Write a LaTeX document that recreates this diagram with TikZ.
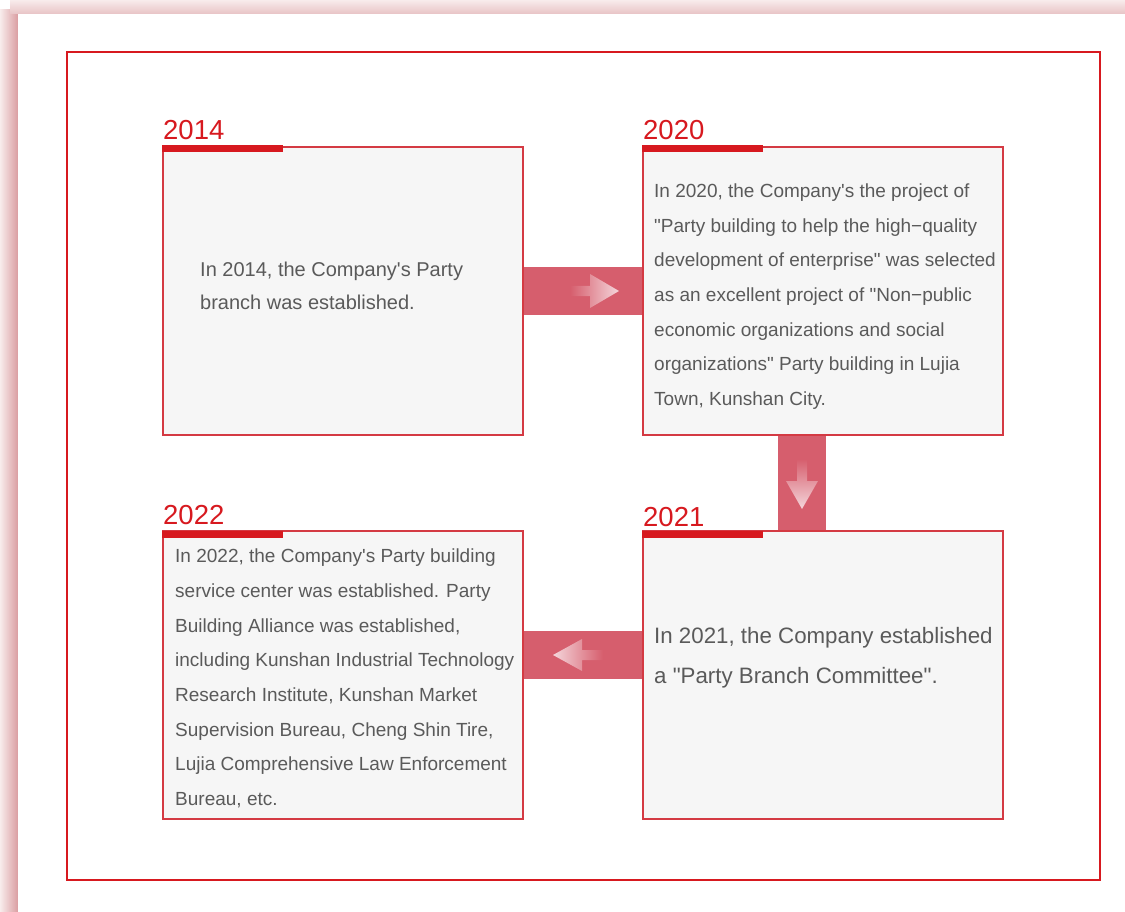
\documentclass[tikz,border=0pt]{standalone}
\usepackage{fontspec}
\newfontfamily\cardfont{Liberation Sans}
\usetikzlibrary{positioning,calc,backgrounds}
\definecolor{framered}{HTML}{D7191F}
\definecolor{boxline}{HTML}{D43A43}
\definecolor{boxfill}{HTML}{F6F6F6}
\definecolor{bandred}{HTML}{D65E6D}
\definecolor{arrowlight}{HTML}{F4D6DB}
\definecolor{textgray}{HTML}{5A5A5A}
\definecolor{shadowdark}{HTML}{DA9DA1}
\definecolor{shadowlight}{HTML}{F8ECEC}
\definecolor{shadowtop}{HTML}{E8C3C5}
\tikzset{yearbox/.style={draw=boxline, line width=1.1pt, fill=boxfill,
  minimum width=360pt, minimum height=288pt, inner sep=0pt, outer sep=0pt},
yeartag/.style={text=framered, font=\cardfont\fontsize{27.5}{27.5}\selectfont,
  inner sep=0pt, anchor=base west},
yearbar/.style={framered, line width=7pt},
boxtext/.style={text=textgray, font=\cardfont\fontsize{19}{34.7}\selectfont,
  align=left, inner sep=0pt},
band/.style={bandred, line width=48pt}}

\begin{document}
\begin{tikzpicture}[x=1pt,y=-1pt]
        \useasboundingbox (0,0) rectangle (1125,912);
        \begin{pgfonlayer}{background}
        \shade[left color=shadowlight, right color=shadowdark] (0,10) rectangle (18,912);
        \shade[top color=shadowlight, bottom color=shadowtop] (10,0) rectangle (1125,14);
        \fill[white] (18,14) rectangle (1125,912);
        \end{pgfonlayer}
        \draw[framered, line width=2.4pt] (67,52) rectangle (1100,880);

        \node[yearbox] (b2014) at (343,291) {};
        \node[yearbox] (b2020) at (823,291) {};
        \node[yearbox] (b2021) at (823,675) {};
        \node[yearbox] (b2022) at (343,675) {};

        \begin{pgfonlayer}{background}
        \draw[band] (b2014.east) -- (b2020.west);
        \draw[band] ([xshift=-21pt]b2020.south) -- ([xshift=-21pt]b2021.north);
        \draw[band] ([yshift=20pt]b2021.west) -- ([yshift=20pt]b2022.east);
        \end{pgfonlayer}

        % arrow marks on the bands
        \coordinate (m1) at ($(b2014.east)!.5!(b2020.west)$);
        \coordinate (m2) at ($([xshift=-21pt]b2020.south)!.5!([xshift=-21pt]b2021.north)$);
        \coordinate (m3) at ($([yshift=20pt]b2021.west)!.5!([yshift=20pt]b2022.east)$);
        \shade[left color=bandred, middle color=arrowlight!70!bandred, right color=arrowlight]
              ($(m1)+(-13,-5)$) -- ++(20,0) -- ++(0,-12) -- ++(29,17) -- ++(-29,17) -- ++(0,-12) -- ++(-20,0) -- cycle;
        \shade[top color=bandred, middle color=arrowlight!70!bandred, bottom color=arrowlight]
              ($(m2)+(-5,-24)$) -- ++(10,0) -- ++(0,22) -- ++(11,0) -- ++(-16,28) -- ++(-16,-28) -- ++(11,0) -- cycle;
        \shade[left color=arrowlight, middle color=arrowlight!70!bandred, right color=bandred]
              ($(m3)+(20,-5)$) -- ++(-21,0) -- ++(0,-11) -- ++(-29,16) -- ++(29,16) -- ++(0,-11) -- ++(21,0) -- cycle;

        \node[yeartag] (y2014) at ([yshift=7pt]b2014.north west) {2014};
        \node[yeartag] (y2020) at ([yshift=7pt]b2020.north west) {2020};
        \node[yeartag] (y2021) at ([yshift=5pt]b2021.north west) {2021};
        \node[yeartag] (y2022) at ([yshift=7pt]b2022.north west) {2022};
        \draw[yearbar] ([xshift=-1pt,yshift=-2pt]b2014.north west) -- ++(121,0);
        \draw[yearbar] ([xshift=-1pt,yshift=-2pt]b2020.north west) -- ++(121,0);
        \draw[yearbar] ([xshift=-1pt,yshift=-3.5pt]b2021.north west) -- ++(121,0);
        \draw[yearbar] ([xshift=-1pt,yshift=-3.5pt]b2022.north west) -- ++(121,0);

        \node[boxtext, font=\cardfont\fontsize{20}{33}\selectfont, right=37pt of b2014.west, yshift=5.5pt] (t2014)
              {In 2014, the Company's Party\\branch was established.};
        \node[boxtext, right=11pt of b2020.west, yshift=-5.5pt] (t2020)
              {In 2020, the Company's the project of\\"Party building to help the high−quality\\development of enterprise" was selected\\as an excellent project of "Non−public\\economic organizations and social\\organizations" Party building in Lujia\\Town, Kunshan City.};
        \node[boxtext, font=\cardfont\fontsize{22.3}{40}\selectfont, right=11pt of b2021.west, yshift=17pt] (t2021)
              {In 2021, the Company established\\a "Party Branch Committee".};
        \node[boxtext, right=12pt of b2022.west, yshift=-3.5pt] (t2022)
              {In 2022, the Company's Party building\\service center was established. Party\\Building Alliance was established,\\including Kunshan Industrial Technology\\Research Institute, Kunshan Market\\Supervision Bureau, Cheng Shin Tire,\\Lujia Comprehensive Law Enforcement\\Bureau, etc.};
    \end{tikzpicture}
\end{document}
